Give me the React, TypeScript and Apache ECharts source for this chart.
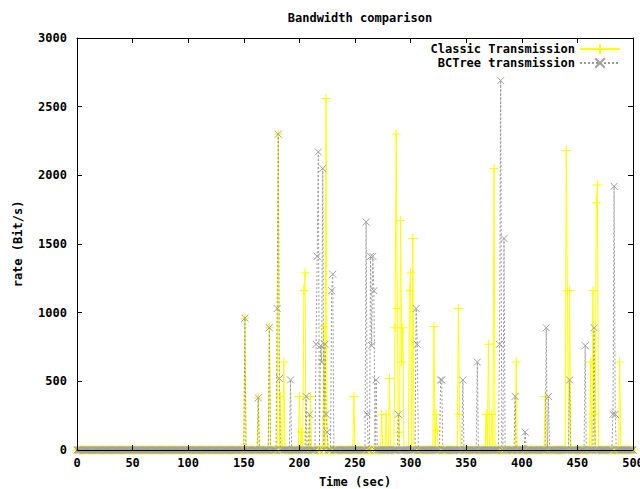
import React, { useEffect, useRef } from "react";
import * as echarts from "echarts";

// ---- Data ----
const seriesNames = ["Classic Transmission", "BCTree transmission"];

// Sample times (seconds) on which both traces were recorded
const sampleTimes: number[] = Array.from({ length: 501 }, (_, i) => i);

// Non-zero samples of the classic transmission (time, rate)
const classicTimes = [
  151, 163, 173, 181, 183, 186, 200, 202, 204, 205, 210, 222, 224, 249, 274, 278,
  281, 286, 287, 288, 290, 291, 292, 293, 299, 300, 302, 321, 323, 324, 343, 344,
  368, 370, 373, 375, 395, 421, 440, 441, 443, 462, 464, 465, 467, 468, 488,
];
const classicValues = [
  960, 380, 890, 2300, 390, 640, 390, 130, 1160, 1290, 390, 900, 2560, 390, 260, 260,
  520, 890, 2300, 1030, 130, 1670, 640, 890, 1160, 1290, 1540, 900, 260, 140, 1030, 260,
  260, 770, 260, 2050, 640, 390, 2180, 1160, 1160, 640, 1160, 260, 1800, 1930, 640,
];

// Non-zero samples of the BCTree transmission (time, rate)
const bctreeTimes = [
  151, 163, 173, 180, 181, 182, 192, 206, 209, 215, 216, 217, 219, 220, 221, 223,
  224, 225, 229, 230, 260, 261, 264, 265, 266, 267, 269, 289, 305, 306, 327, 328,
  347, 360, 380, 381, 384, 394, 403, 422, 424, 443, 457, 465, 482, 483, 484,
];
const bctreeValues = [
  960, 380, 890, 1030, 2300, 520, 510, 390, 260, 770, 1410, 2170, 760, 640, 2050, 770,
  260, 130, 1160, 1280, 1660, 260, 1410, 760, 1410, 1160, 510, 260, 1030, 770, 510, 510,
  510, 640, 770, 2690, 1540, 390, 130, 890, 390, 510, 760, 890, 260, 1920, 260,
];

const yTicks = { min: 0, max: 3000, interval: 500 };
const xTicks = { min: 0, max: 500, interval: 50 };

const FONT = '"DejaVu Sans Mono", "Liberation Mono", monospace';
const PLUS = "path://M0,5L10,5M5,0L5,10";
const CROSS = "path://M0,0L10,10M10,0L0,10";

function buildSeries(times: number[], values: number[]) {
  const m = new Map<number, number>();
  times.forEach((t, i) => m.set(t, values[i]));
  return sampleTimes.map((t) => [t, m.has(t) ? (m.get(t) as number) : 0]);
}

const txt = () => ({ fontFamily: FONT, fontSize: 12, fontWeight: "bold" as const, color: "#000" });
const mkLine = () => ({ show: true, onZero: false, lineStyle: { color: "#000", width: 1 } });
const mkTick = () => ({ show: true, inside: true, length: 5, lineStyle: { color: "#000", width: 1 } });

export default function App() {
  const ref = useRef<HTMLDivElement>(null);
  useEffect(() => {
    if (!ref.current) return;
    const chart = echarts.init(ref.current, undefined, { renderer: "svg" });
    chart.setOption({
      animation: false,
      title: {
        text: "Bandwidth comparison",
        left: 355,
        top: 7,
        textAlign: "center",
        textStyle: txt(),
      },
      legend: {
        orient: "vertical",
        right: 14,
        top: 38,
        align: "right",
        itemWidth: 40,
        itemHeight: 12,
        itemGap: 2,
        textStyle: txt(),
        data: seriesNames,
      },
      grid: { left: 77, right: 7, top: 38, bottom: 39, outerBoundsMode: "none", containLabel: false },
      xAxis: [
        {
          type: "value",
          ...xTicks,
          name: "Time (sec)",
          nameLocation: "middle",
          nameGap: 26,
          nameTextStyle: txt(),
          axisLine: mkLine(),
          axisTick: mkTick(),
          axisLabel: { margin: 7, ...txt() },
          splitLine: { show: false },
          z: 10,
        },
        {
          type: "value",
          position: "top",
          ...xTicks,
          axisLine: mkLine(),
          axisTick: mkTick(),
          axisLabel: { show: false },
          splitLine: { show: false },
        },
      ],
      yAxis: [
        {
          type: "value",
          ...yTicks,
          name: "rate (Bit/s)",
          nameLocation: "middle",
          nameGap: 53,
          nameRotate: 90,
          nameTextStyle: txt(),
          axisLine: mkLine(),
          axisTick: mkTick(),
          axisLabel: { margin: 10, formatter: (v: number) => String(v), ...txt() },
          splitLine: { show: false },
          z: 10,
        },
        {
          type: "value",
          position: "right",
          ...yTicks,
          axisLine: mkLine(),
          axisTick: mkTick(),
          axisLabel: { show: false },
          splitLine: { show: false },
        },
      ],
      series: [
        {
          name: seriesNames[0],
          type: "line",
          data: buildSeries(classicTimes, classicValues),
          symbol: PLUS,
          symbolSize: 9,
          clip: false,
          lineStyle: { color: "#ffff00", width: 1 },
          itemStyle: { color: "#ffff00", borderColor: "#ffff00", borderWidth: 1 },
          emphasis: { disabled: true },
          z: 2,
        },
        {
          name: seriesNames[1],
          type: "line",
          data: buildSeries(bctreeTimes, bctreeValues),
          symbol: CROSS,
          symbolSize: 7,
          clip: false,
          lineStyle: { color: "#9a9a9a", width: 1, type: [2, 2] },
          itemStyle: { color: "#a0a0a0", borderColor: "#a0a0a0", borderWidth: 1 },
          emphasis: { disabled: true },
          z: 3,
        },
      ],
    });
    return () => chart.dispose();
  }, []);
  return (
    <div
      ref={ref}
      style={{ position: "fixed", left: 0, top: 0, width: 640, height: 489, background: "#fff" }}
    />
  );
}
